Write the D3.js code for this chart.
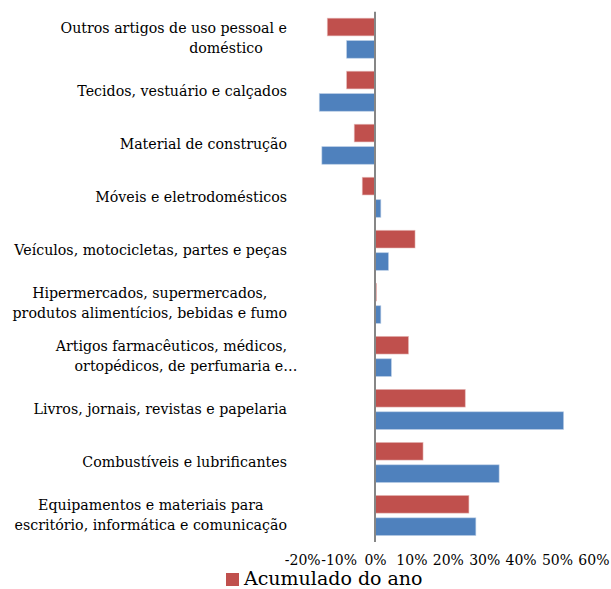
<!DOCTYPE html>
<html><head><meta charset="utf-8">
<script src="https://cdn.jsdelivr.net/npm/d3@7"></script>
<style>html,body{margin:0;padding:0;background:#fff;} svg{display:block;} svg text{font-family:"DejaVu Serif","Liberation Serif",Georgia,"Times New Roman",serif;}</style>
</head><body>
<svg id="chart" width="611" height="589"></svg>
<script>
// ---- data (top to bottom as shown) ----
const categoryLines = [
  ["Outros artigos de uso pessoal e", "doméstico"],
  ["Tecidos, vestuário e calçados"],
  ["Material de construção"],
  ["Móveis e eletrodomésticos"],
  ["Veículos, motocicletas, partes e peças"],
  ["Hipermercados, supermercados,", "produtos alimentícios, bebidas e fumo"],
  ["Artigos farmacêuticos, médicos,", "ortopédicos, de perfumaria e…"],
  ["Livros, jornais, revistas e papelaria"],
  ["Combustíveis e lubrificantes"],
  ["Equipamentos e materiais para", "escritório, informática e comunicação"]
];
const categories = categoryLines.map(l => l.join(" "));
const seriesNames = ["Acumulado do ano", "Mês"];
const acumuladoAno = [-0.131, -0.078, -0.057, -0.035, 0.110, 0.004, 0.092, 0.248, 0.132, 0.258];
const mes          = [-0.078, -0.153, -0.146, 0.016, 0.037, 0.016, 0.045, 0.518, 0.341, 0.277];
const tickValues = [-0.2, -0.1, 0, 0.1, 0.2, 0.3, 0.4, 0.5, 0.6];
const colors = ["#C0504D", "#4F81BD"];

// ---- layout ----
const svg = d3.select("#chart");
const x = d3.scaleLinear().domain([-0.2, 0.6]).range([302.2, 593.4]);
const y = d3.scaleBand().domain(categories).range([11.7, 542])
  .paddingInner(0.245).paddingOuter(0.1225);
const ySub = d3.scaleBand().domain(seriesNames).range([0, y.bandwidth()]).paddingInner(0.21);

const rows = categories.map((c, i) => ({cat: c, vals: [acumuladoAno[i], mes[i]]}));

const g = svg.append("g");
rows.forEach(r => {
  r.vals.forEach((v, j) => {
    g.append("rect")
      .attr("x", x(Math.min(0, v)))
      .attr("y", y(r.cat) + ySub(seriesNames[j]))
      .attr("width", Math.max(1, Math.abs(x(v) - x(0))))
      .attr("height", ySub.bandwidth())
      .attr("fill", colors[j])
      .attr("stroke", j === 0 ? "#E6B9B8" : "#B9CDE5")
      .attr("stroke-width", 0.8)
      .attr("stroke-opacity", 0.7);
  });
});

// vertical zero axis line
svg.append("line")
  .attr("x1", x(0)).attr("x2", x(0))
  .attr("y1", y.range()[0]).attr("y2", y.range()[1])
  .attr("stroke", "#868686").attr("stroke-width", 2);

// category labels (wrapped lines centred on the longest line; two wrapped
// lines sit off-centre in the original rendering)
const labelRight = 287;
const lineH = 20;
const secondLineCentre = {0: 226, 6: 186};
categoryLines.forEach((lines, i) => {
  const cy = y(categories[i]) + y.bandwidth() / 2;
  const texts = lines.map((t, k) => svg.append("text")
    .attr("font-size", 14.2).attr("fill", "#000")
    .attr("y", cy + (k - (lines.length - 1) / 2) * lineH)
    .attr("dy", "0.35em")
    .text(t));
  const widths = texts.map(t => t.node().getComputedTextLength());
  const maxW = Math.max(...widths);
  const center = labelRight - maxW / 2;
  texts.forEach((t, k) => t.attr("text-anchor", "middle")
    .attr("x", (k === 1 && secondLineCentre[i] !== undefined) ? secondLineCentre[i] : center));
});

// bottom axis labels
const axis = d3.axisBottom(x).tickValues(tickValues).tickSize(0).tickPadding(13)
  .tickFormat(d => Math.round(d * 100) + "%");
const ax = svg.append("g").attr("transform", "translate(0,542)").call(axis);
ax.select(".domain").remove();
ax.attr("font-family", null).attr("font-size", null);
ax.selectAll("text").attr("font-size", 14).attr("fill", "#000");

// legend (only the visible entry)
const leg = svg.append("g");
leg.append("rect").attr("x", 226).attr("y", 573).attr("width", 13).attr("height", 13).attr("fill", colors[0]);
leg.append("text").attr("x", 244).attr("y", 585)
  .attr("font-size", 19).attr("fill", "#000")
  .text(seriesNames[0]);
</script>
</body></html>
